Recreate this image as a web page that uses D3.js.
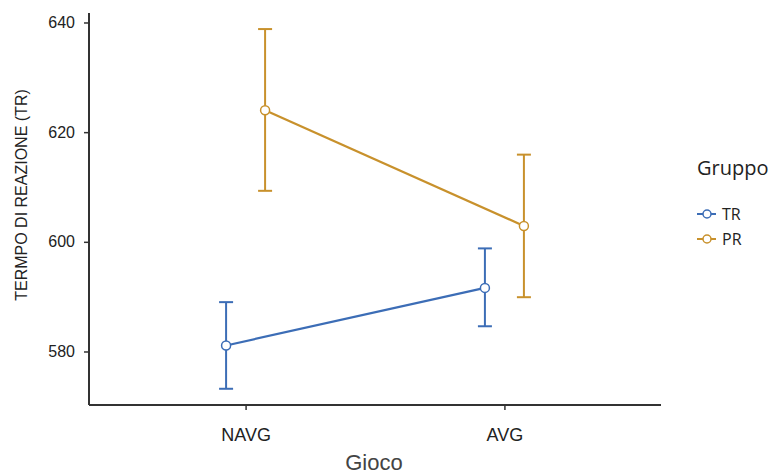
<!DOCTYPE html>
<html lang="it">
<head>
<meta charset="UTF-8">
<title>Tempo di reazione per Gioco e Gruppo</title>
<script src="https://d3js.org/d3.v7.min.js"></script>
<style>
  body { margin: 0; background: #fff; font-family: "Liberation Sans", Arial, sans-serif; }
  svg text { fill: #222; }
</style>
</head>
<body>
<svg id="chart" width="773" height="474"></svg>
<script>
// dati
const giochi = ["NAVG", "AVG"];
const gruppi = ["TR", "PR"];
const mediaTR = [581.1, 591.6];
const mediaPR = [624.0, 602.9];
const infTR = [573.2, 584.6];
const supTR = [589.0, 598.8];
const infPR = [609.3, 589.9];
const supPR = [638.8, 615.9];
const yTicks = [580, 600, 620, 640];

const colori = { TR: "#3c6db6", PR: "#c8912c" };

const serie = [
  { nome: "TR", media: mediaTR, inf: infTR, sup: supTR, dodge: -19.5 },
  { nome: "PR", media: mediaPR, inf: infPR, sup: supPR, dodge: 19.5 }
];

const svg = d3.select("#chart");
const mLeft = 89, mRight = 661, mTop = 13, mBottom = 405;

const x = d3.scalePoint().domain(giochi).range([mLeft, mRight]).padding(0.605);
const y = d3.scaleLinear().domain([570.24, 641.73]).range([mBottom, mTop]);

// assi
const gy = svg.append("g").attr("transform", `translate(${mLeft},0)`)
  .call(d3.axisLeft(y).tickValues(yTicks).tickSize(5).tickPadding(9).tickSizeOuter(0));
gy.select(".domain").attr("stroke", "#333").attr("stroke-width", 2)
  .attr("d", `M0,${mTop}V${mBottom}`);
gy.selectAll(".tick line").attr("stroke", "#333").attr("stroke-width", 1.5);
gy.selectAll(".tick text").style("font-size", "16px").attr("fill", "#222");

const gx = svg.append("g").attr("transform", `translate(0,${mBottom})`)
  .call(d3.axisBottom(x).tickSize(5).tickPadding(18).tickSizeOuter(0));
gx.select(".domain").attr("stroke", "#333").attr("stroke-width", 2)
  .attr("d", `M${mLeft},0H${mRight}`);
gx.selectAll(".tick line").attr("stroke", "#333").attr("stroke-width", 1.5);
gx.selectAll(".tick text").style("font-size", "18px").attr("fill", "#222");

// titoli assi
svg.append("text")
  .attr("x", 374).attr("y", 470)
  .attr("text-anchor", "middle")
  .style("font-size", "22px").style("fill", "#444")
  .text("Gioco");

svg.append("text")
  .attr("transform", "translate(27,195) rotate(-90)")
  .attr("text-anchor", "middle")
  .style("font-size", "16px")
  .text("TERMPO DI REAZIONE (TR)");

// linee, barre d'errore, punti
const linea = d3.line();
serie.forEach(s => {
  const c = colori[s.nome];
  const pts = giochi.map((g, i) => [x(g) + s.dodge, y(s.media[i])]);
  const g = svg.append("g");

  g.append("path")
    .attr("d", linea(pts))
    .attr("fill", "none").attr("stroke", c).attr("stroke-width", 2.2);

  giochi.forEach((gi, i) => {
    const cx = x(gi) + s.dodge;
    g.append("line")
      .attr("x1", cx).attr("x2", cx)
      .attr("y1", y(s.sup[i])).attr("y2", y(s.inf[i]))
      .attr("stroke", c).attr("stroke-width", 2);
    [s.sup[i], s.inf[i]].forEach(v => {
      g.append("line")
        .attr("x1", cx - 7).attr("x2", cx + 7)
        .attr("y1", y(v)).attr("y2", y(v))
        .attr("stroke", c).attr("stroke-width", 2);
    });
  });

  g.selectAll("circle").data(pts).enter().append("circle")
    .attr("cx", d => d[0]).attr("cy", d => d[1]).attr("r", 4.5)
    .attr("fill", "#fff").attr("stroke", c).attr("stroke-width", 1.5);
});

// legenda
const leg = svg.append("g").attr("transform", "translate(697,0)");
leg.append("text")
  .attr("x", 0).attr("y", 175)
  .style("font-family", "'Open Sans', sans-serif")
  .style("font-size", "20px")
  .text("Gruppo");

gruppi.forEach((nome, i) => {
  const yy = 214 + i * 25;
  const c = colori[nome];
  leg.append("line").attr("x1", 0).attr("x2", 19).attr("y1", yy).attr("y2", yy)
    .attr("stroke", c).attr("stroke-width", 2);
  leg.append("circle").attr("cx", 10).attr("cy", yy).attr("r", 4)
    .attr("fill", "#fff").attr("stroke", c).attr("stroke-width", 1.5);
  leg.append("text").attr("x", 25).attr("y", yy).attr("dy", "0.35em")
    .style("font-family", "'Open Sans', sans-serif")
    .style("font-size", "16px")
    .text(nome);
});
</script>
</body>
</html>
